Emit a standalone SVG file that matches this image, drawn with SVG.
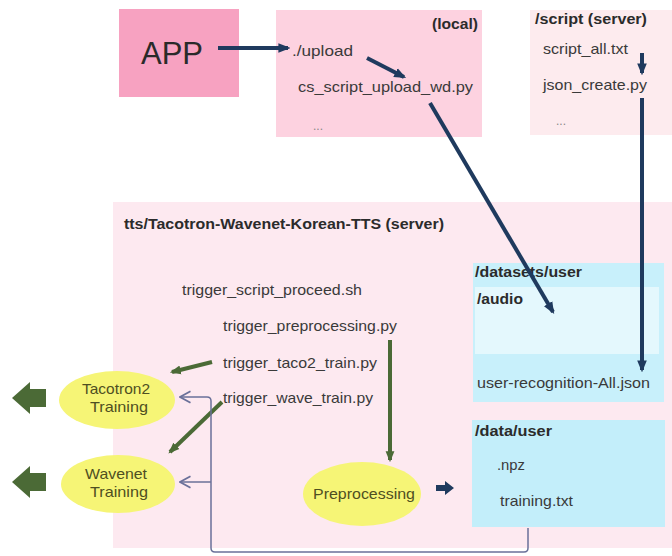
<svg xmlns="http://www.w3.org/2000/svg" width="672" height="556" viewBox="0 0 672 556">
  <style>
    text { font-family: "Liberation Sans", Arial, sans-serif; font-size: 15px; fill: #3a3a3a; }
    .b { font-weight: bold; font-size: 14.5px; fill: #2b2b2b; }
    .dim { fill: #888; font-size: 12px; }
    .oval { fill: #f6f576; }
    .olabel { fill: #4f4f22; text-anchor: middle; }
    .navy { stroke: #1f3a5e; stroke-width: 4; fill: none; }
    .green { stroke: #4b6a36; stroke-width: 4; fill: none; }
    .thin { stroke: #6a7099; stroke-width: 1.5; fill: none; }
  </style>
  <defs>
    <marker id="navyHead" markerUnits="userSpaceOnUse" viewBox="0 0 10 10" refX="8" refY="5" markerWidth="12" markerHeight="12" orient="auto">
      <path d="M0,1 L10,5 L0,9 Z" fill="#1f3a5e"/>
    </marker>
    <marker id="greenHead" markerUnits="userSpaceOnUse" viewBox="0 0 10 10" refX="8" refY="5" markerWidth="11" markerHeight="11" orient="auto">
      <path d="M0,1 L10,5 L0,9 Z" fill="#4b6a36"/>
    </marker>
    <marker id="openHead" markerUnits="userSpaceOnUse" viewBox="0 0 12 12" refX="11" refY="6" markerWidth="14" markerHeight="14" orient="auto">
      <path d="M2,1 L11,6 L2,11" fill="none" stroke="#6a7099" stroke-width="1.5"/>
    </marker>
  </defs>

  <rect width="672" height="556" fill="#ffffff"/>

  <!-- server container -->
  <g id="server">
    <rect x="113" y="202" width="559" height="346" fill="#fde9f0"/>
    <text class="b" x="124" y="229" textLength="320" lengthAdjust="spacingAndGlyphs">tts/Tacotron-Wavenet-Korean-TTS (server)</text>
    <text x="182" y="295" textLength="180" lengthAdjust="spacingAndGlyphs">trigger_script_proceed.sh</text>
    <text x="223" y="331" textLength="174" lengthAdjust="spacingAndGlyphs">trigger_preprocessing.py</text>
    <text x="223" y="368" textLength="154" lengthAdjust="spacingAndGlyphs">trigger_taco2_train.py</text>
    <text x="223" y="403" textLength="150" lengthAdjust="spacingAndGlyphs">trigger_wave_train.py</text>
  </g>

  <g id="app">
    <rect x="119" y="9" width="120" height="88" fill="#f7a2c1"/>
    <text x="172" y="64" style="font-size:31px;fill:#2a2a2a" text-anchor="middle">APP</text>
  </g>

  <g id="local">
    <rect x="276" y="10" width="206" height="127" fill="#fdd2e0"/>
    <text class="b" x="432" y="29" textLength="46" lengthAdjust="spacingAndGlyphs">(local)</text>
    <text x="292" y="56" textLength="61" lengthAdjust="spacingAndGlyphs">./upload</text>
    <text x="298" y="92" textLength="175" lengthAdjust="spacingAndGlyphs">cs_script_upload_wd.py</text>
    <text class="dim" x="313" y="130">...</text>
  </g>

  <g id="script">
    <rect x="530" y="10" width="142" height="125" fill="#fdebee"/>
    <text class="b" x="535" y="24" textLength="112" lengthAdjust="spacingAndGlyphs">/script (server)</text>
    <text x="543" y="54" textLength="85" lengthAdjust="spacingAndGlyphs">script_all.txt</text>
    <text x="543" y="90" textLength="104" lengthAdjust="spacingAndGlyphs">json_create.py</text>
    <text class="dim" x="556" y="125">...</text>
  </g>

  <g id="datasets">
    <rect x="473" y="263" width="191" height="139" fill="#c8f0fb"/>
    <rect x="475" y="287" width="184" height="67" fill="#e4f8fd"/>
    <text class="b" x="475" y="277" textLength="107" lengthAdjust="spacingAndGlyphs">/datasets/user</text>
    <text class="b" x="477" y="304" textLength="46" lengthAdjust="spacingAndGlyphs">/audio</text>
    <text x="477" y="388" textLength="173" lengthAdjust="spacingAndGlyphs">user-recognition-All.json</text>
  </g>

  <g id="data-user">
    <rect x="472" y="420" width="193" height="107" fill="#c3eefa"/>
    <text class="b" x="475" y="436" textLength="77" lengthAdjust="spacingAndGlyphs">/data/user</text>
    <text x="497" y="470" textLength="28" lengthAdjust="spacingAndGlyphs">.npz</text>
    <text x="500" y="506" textLength="73" lengthAdjust="spacingAndGlyphs">training.txt</text>
  </g>

  <g id="tacotron2">
    <ellipse class="oval" cx="117" cy="400" rx="58" ry="29"/>
    <text class="olabel" x="116" y="394" textLength="68" lengthAdjust="spacingAndGlyphs">Tacotron2</text>
    <text class="olabel" x="119" y="412" textLength="58" lengthAdjust="spacingAndGlyphs">Training</text>
  </g>

  <g id="wavenet">
    <ellipse class="oval" cx="118" cy="484" rx="57" ry="29"/>
    <text class="olabel" x="116" y="479" textLength="62" lengthAdjust="spacingAndGlyphs">Wavenet</text>
    <text class="olabel" x="119" y="497" textLength="58" lengthAdjust="spacingAndGlyphs">Training</text>
  </g>

  <g id="preprocessing">
    <ellipse class="oval" cx="362" cy="494" rx="59" ry="32"/>
    <text class="olabel" x="364" y="499" textLength="102" lengthAdjust="spacingAndGlyphs">Preprocessing</text>
  </g>

  <g id="out-tacotron2">
    <path d="M12,398 L30,382 L30,389 L46,389 L46,407 L30,407 L30,414 Z" fill="#4b6a36"/>
  </g>
  <g id="out-wavenet">
    <path d="M12,482 L30,466 L30,473 L46,473 L46,491 L30,491 L30,498 Z" fill="#4b6a36"/>
  </g>

  <g id="connectors">
    <!-- upload path -->
    <line class="navy" x1="218" y1="48" x2="288" y2="48" marker-end="url(#navyHead)"/>
    <line class="navy" x1="367" y1="58" x2="404" y2="77" marker-end="url(#navyHead)"/>
    <line class="navy" x1="430" y1="103" x2="553" y2="312" marker-end="url(#navyHead)"/>
    <!-- script server path -->
    <line class="navy" x1="642" y1="53" x2="642" y2="73" marker-end="url(#navyHead)"/>
    <line class="navy" x1="642" y1="98" x2="642" y2="370" marker-end="url(#navyHead)"/>
    <!-- preprocessing output: short block arrow -->
    <path d="M436,485 L445,485 L445,481 L454,488 L445,495 L445,491 L436,491 Z" fill="#1f3a5e"/>
    <!-- triggers -->
    <line class="green" x1="390" y1="340" x2="390" y2="460" marker-end="url(#greenHead)"/>
    <line class="green" x1="212" y1="362" x2="172" y2="372" marker-end="url(#greenHead)"/>
    <line class="green" x1="222" y1="402" x2="170" y2="452" marker-end="url(#greenHead)"/>
    <!-- training data feedback -->
    <path class="thin" d="M528,528 L528,548 Q528,552 524,552 L215,552 Q211,552 211,548 L211,401 Q211,397 207,397 L180,397" marker-end="url(#openHead)"/>
    <path class="thin" d="M211,482 L180,482" marker-end="url(#openHead)"/>
  </g>
</svg>
